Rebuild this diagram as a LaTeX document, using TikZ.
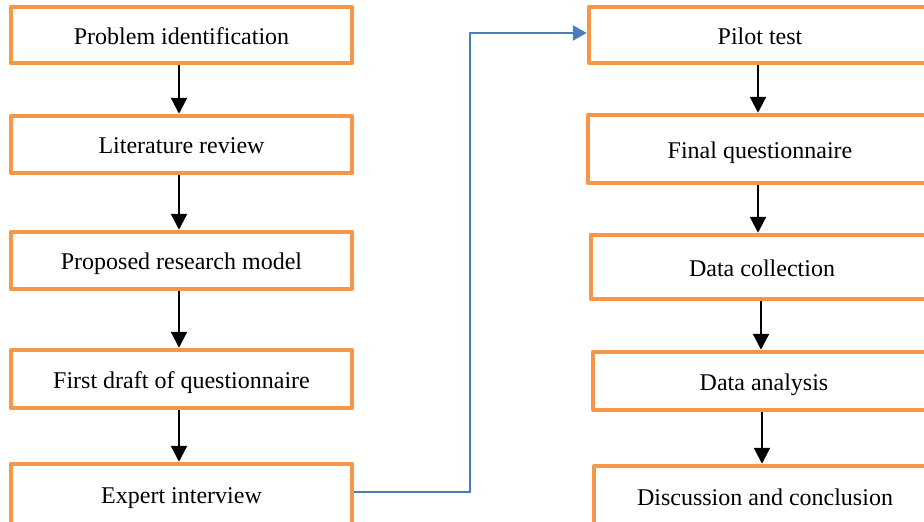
\documentclass[tikz,border=0pt]{standalone}
\usepackage{fontspec}
\setmainfont{Liberation Serif}
\usetikzlibrary{arrows.meta}
\definecolor{boxorange}{HTML}{F79646}
\definecolor{linkblue}{HTML}{4A7EBB}
\tikzset{
  stepbox/.style={draw=boxorange, line width=4.5pt, line join=round, fill=white,
    rectangle, inner sep=0pt, text height=22pt, text depth=4pt,
    font=\fontsize{24}{28}\selectfont},
  flowarr/.style={draw=black, line width=2.3pt, -{Triangle[width=16pt,length=16pt]}},
  linkarr/.style={draw=linkblue, line width=2.4pt, -{Triangle[width=15pt,length=14pt]}}
}
\begin{document}
\begin{tikzpicture}[x=1pt,y=-1pt]
\useasboundingbox (0,0) rectangle (924,522);
\begin{scope}
\clip (0,0) rectangle (924,522);
% left column
\node[stepbox, minimum width=341pt, minimum height=56pt] (L1) at (181.5,35) {Problem identification};
\node[stepbox, minimum width=341pt, minimum height=57pt] (L2) at (181.5,144.5) {Literature review};
\node[stepbox, minimum width=341pt, minimum height=57pt] (L3) at (181.5,260.5) {Proposed research model};
\node[stepbox, minimum width=341pt, minimum height=58pt] (L4) at (181.5,379) {First draft of questionnaire};
\node[stepbox, minimum width=341pt, minimum height=60pt] (L5) at (181.5,494) {Expert interview};
% right column
\node[stepbox, minimum width=342pt, minimum height=56pt] (R1) at (760,35) {Pilot test};
\node[stepbox, minimum width=344pt, minimum height=68pt] (R2) at (760,149) {Final questionnaire};
\node[stepbox, minimum width=342pt, minimum height=64pt] (R3) at (762,267) {Data collection};
\node[stepbox, minimum width=342pt, minimum height=58pt] (R4) at (764,381) {Data analysis};
\node[stepbox, minimum width=342pt, minimum height=60pt] (R5) at (765,496) {Discussion and conclusion};
\end{scope}
% arrows left
\coordinate (lx) at (179,0);
\draw[flowarr] (L1.south -| lx) -- (L2.north -| lx);
\draw[flowarr] (L2.south -| lx) -- (L3.north -| lx);
\draw[flowarr] (L3.south -| lx) -- (L4.north -| lx);
\draw[flowarr] (L4.south -| lx) -- (L5.north -| lx);
% arrows right
\coordinate (ra) at (758,0);
\coordinate (rb) at (758,0);
\coordinate (rc) at (761,0);
\coordinate (rd) at (762,0);
\draw[flowarr] (R1.south -| ra) -- (R2.north -| ra);
\draw[flowarr] (R2.south -| rb) -- (R3.north -| rb);
\draw[flowarr] (R3.south -| rc) -- (R4.north -| rc);
\draw[flowarr] (R4.south -| rd) -- (R5.north -| rd);
% link
\coordinate (turn) at (470,0);
\coordinate (ly) at (0,492);
\coordinate (ry) at (0,33);
\draw[linkarr] (L5.east |- ly) -| (turn |- ry) -- (R1.west |- ry);
\end{tikzpicture}
\end{document}
